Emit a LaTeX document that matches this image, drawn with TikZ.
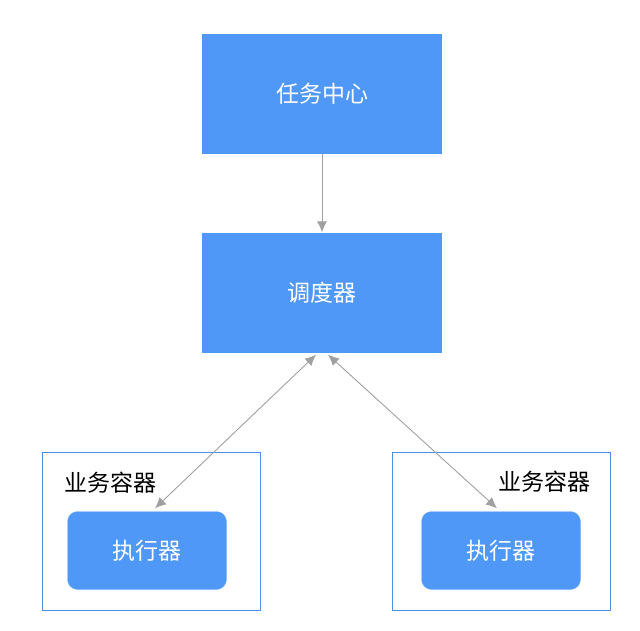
\documentclass[tikz,border=0pt]{standalone}
\usepackage{fontspec}
\usepackage{tikz}
\usetikzlibrary{arrows.meta}
\setmainfont{Noto Sans CJK SC}
\definecolor{boxblue}{RGB}{80,152,248}
\definecolor{lineblue}{RGB}{74,144,226}
\definecolor{arrowgray}{RGB}{160,160,160}

\begin{document}
\begin{tikzpicture}[x=1pt,y=-1pt]
        \tikzstyle{every node} = [inner sep=0pt, font=\fontsize{23}{26}\selectfont]
        \tikzstyle{bigbox} = [rectangle, fill=boxblue, text=white, minimum width=240pt, minimum height=120pt]
        \tikzstyle{execbox} = [rectangle, rounded corners=10pt, fill=boxblue, draw=boxblue!70!white, text=white, minimum width=159pt, minimum height=78pt]
        \tikzstyle{container} = [rectangle, draw=lineblue, line width=1pt, minimum width=218pt, minimum height=158pt]
        \tikzstyle{link} = [draw=arrowgray, line width=0.9pt, -{Latex[length=11pt,width=10pt]}]
        \useasboundingbox (0,0) rectangle (640,630);

        \node[container] (contL) at (151,531.5) {};
        \node[container] (contR) at (501,531.5) {};
        \node (labL) at (110.5,483) {业务容器};
        \node (labR) at (544.5,482) {业务容器};

        \node[bigbox] (center) at (322,94) {任务中心};
        \node[bigbox] (sched) at (322,292.5) {调度器};
        \node[execbox] (execL) at (147,550.5) {执行器};
        \node[execbox] (execR) at (501,550.5) {执行器};

        \draw[link] (center) -- (sched);
        \foreach \from/\to/\shift in {execL/-6/8, execR/6/-4}
            \draw[link, {Latex[length=11pt,width=10pt]}-{Latex[length=11pt,width=10pt]}]
                ([xshift=\to pt,yshift=-2pt]sched.south) -- ([xshift=\shift pt,yshift=3pt]\from.north);
      \end{tikzpicture}
\end{document}
